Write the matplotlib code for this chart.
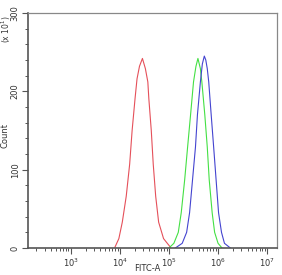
import numpy as np
import matplotlib.pyplot as plt
from matplotlib.ticker import LogLocator, MultipleLocator, FixedLocator

# histogram outlines, x as log10(FITC-A), counts in units of 10
red_log = [3.90, 3.98, 4.05, 4.13, 4.20, 4.25, 4.31, 4.35, 4.40, 4.46, 4.52, 4.57, 4.59, 4.64, 4.68, 4.73, 4.79, 4.89, 5.03]
red_cnt = [1, 12, 33, 66, 107, 150, 191, 216, 232, 242, 229, 212, 191, 150, 107, 66, 33, 12, 1]

green_log = [5.00, 5.10, 5.19, 5.25, 5.32, 5.38, 5.44, 5.50, 5.55, 5.59, 5.64, 5.67, 5.73, 5.78, 5.82, 5.88, 5.93, 6.00, 6.08]
green_cnt = [0, 6, 20, 45, 87, 129, 170, 212, 232, 242, 229, 212, 170, 129, 87, 45, 20, 6, 0]

blue_log = [5.13, 5.27, 5.36, 5.42, 5.48, 5.54, 5.58, 5.64, 5.68, 5.72, 5.75, 5.78, 5.81, 5.86, 5.91, 5.96, 6.01, 6.07, 6.13, 6.25]
blue_cnt = [0, 6, 20, 45, 87, 129, 170, 212, 235, 245, 240, 229, 212, 170, 129, 87, 45, 20, 6, 0]

y_ticks = [0, 100, 200, 300]
x_major = [1e3, 1e4, 1e5, 1e6, 1e7]

fig = plt.figure(figsize=(2.82, 2.75), dpi=100)
ax = fig.add_axes([28 / 282, 27 / 275, 249 / 282, 235 / 275])

ax.plot(10 ** np.array(red_log), red_cnt, color='#e5505a', lw=0.8)
ax.plot(10 ** np.array(green_log), green_cnt, color='#44e044', lw=0.8)
ax.plot(10 ** np.array(blue_log), blue_cnt, color='#4444d0', lw=0.8)

ax.set_xscale('log')
ax.set_xlim(10 ** 2.13, 10 ** 7.2)
ax.set_ylim(0, 300)

ax.xaxis.set_major_locator(FixedLocator(x_major))
ax.xaxis.set_minor_locator(LogLocator(base=10, subs=np.arange(2, 10)))
ax.set_xticks(x_major)
ax.set_xticklabels([r'$10^{%d}$' % int(np.log10(v)) for v in x_major])
ax.set_yticks(y_ticks)
ax.set_yticklabels([str(v) for v in y_ticks], rotation=90, va='center')
ax.yaxis.set_minor_locator(MultipleLocator(20))

ax.tick_params(which='major', length=4, width=0.8, color='#555555', labelsize=6, labelcolor='#333333', pad=2)
ax.tick_params(which='minor', length=2.5, width=0.7, color='#555555')

for s in ['left', 'bottom']:
    ax.spines[s].set_color('#555555')
    ax.spines[s].set_linewidth(1.2)
for s in ['top', 'right']:
    ax.spines[s].set_color('#888888')
    ax.spines[s].set_linewidth(0.9)

ax.set_xlabel('FITC-A', fontsize=6, color='#333333')
ax.xaxis.set_label_coords(0.48, -0.07)
ax.set_ylabel('Count', fontsize=6, color='#333333')
ax.yaxis.set_label_coords(-0.075, 0.48)
fig.text(6 / 282, 1 - 29 / 275, r'(x 10$^1$)', fontsize=5.5, color='#333333', rotation=90, ha='center', va='center')

fig.savefig('out.png', dpi=100)
